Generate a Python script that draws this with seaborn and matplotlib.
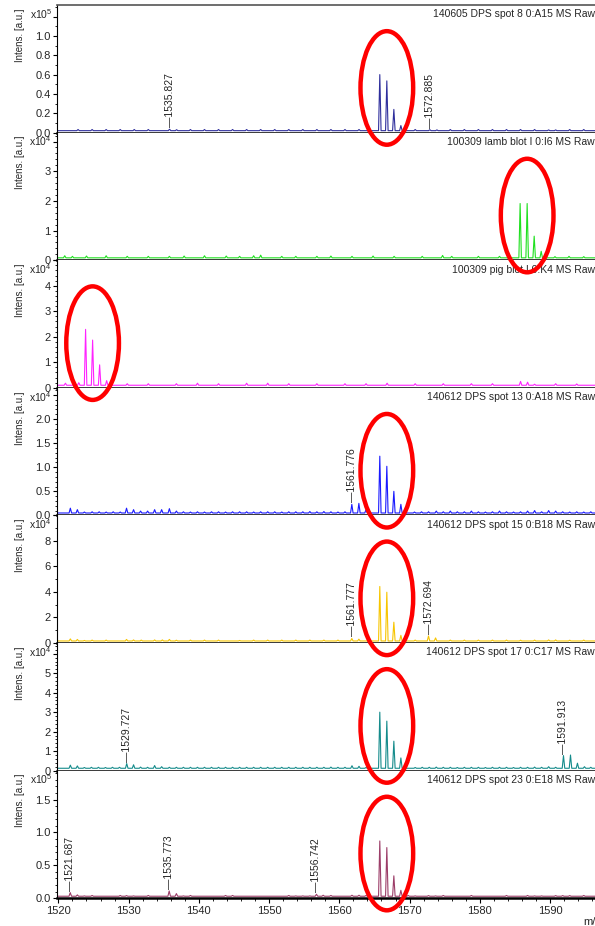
import numpy as np
import pandas as pd
import matplotlib
matplotlib.use("Agg")
import matplotlib.pyplot as plt
import seaborn as sns
from matplotlib.patches import Ellipse
from matplotlib.ticker import MultipleLocator, FuncFormatter
from matplotlib.transforms import blended_transform_factory

# spectrum titles, colours and intensity scale (x10^n) for every panel
titles = ["140605 DPS spot 8 0:A15 MS Raw",
          "100309 lamb blot I 0:I6 MS Raw",
          "100309 pig blot I 0:K4 MS Raw",
          "140612 DPS spot 13 0:A18 MS Raw",
          "140612 DPS spot 15 0:B18 MS Raw",
          "140612 DPS spot 17 0:C17 MS Raw",
          "140612 DPS spot 23 0:E18 MS Raw"]
colors = ["#2e2e9c", "#1fe01f", "#ff22ff", "#1a1aff", "#f7c500", "#148b8b", "#9c3d68"]
exponents = [5, 4, 4, 4, 4, 4, 5]
y_tops = [1.32, 4.3, 5.0, 2.65, 10.0, 6.55, 1.94]
major_steps = [0.2, 1, 1, 0.5, 2, 1, 0.5]
minor_steps = [0.1, 0.2, 0.2, 0.1, 1, 0.2, 0.1]
label_max = [1.0, 3, 4, 2.0, 8, 5, 1.5]
tick_fmt = ["%.1f", "%d", "%d", "%.1f", "%d", "%d", "%.1f"]
baselines = [0.02, 0.08, 0.1, 0.05, 0.16, 0.12, 0.03]

# (m/z, intensity)
spot8_peaks = [(1535.827, 0.035), (1536.83, 0.03), (1565.76, 0.60), (1566.76, 0.535),
               (1567.76, 0.24), (1568.76, 0.073), (1572.885, 0.03), (1573.89, 0.028),
               (1589.8, 0.028), (1590.8, 0.028)]
spot8_noise = [1522.8, 1524.8, 1526.8, 1528.8, 1530.8, 1532.8, 1538.8, 1540.8, 1542.8,
               1544.8, 1546.8, 1548.8, 1550.8, 1552.8, 1554.8, 1556.8, 1558.8, 1560.8,
               1562.8, 1570.8, 1575.8, 1577.8, 1579.8, 1581.8, 1583.8, 1585.8, 1587.8,
               1592.8, 1594.8]
lamb_peaks = [(1520.9, 0.15), (1524.0, 0.14), (1526.8, 0.15), (1532.8, 0.13), (1537.9, 0.14),
              (1540.8, 0.15), (1543.9, 0.14), (1547.8, 0.15), (1548.8, 0.17), (1553.8, 0.13),
              (1558.8, 0.14), (1561.8, 0.13), (1564.8, 0.14), (1574.7, 0.16), (1576.0, 0.13),
              (1585.74, 1.91), (1586.74, 1.91), (1587.74, 0.81), (1588.74, 0.3),
              (1590.7, 0.12), (1592.7, 0.13), (1594.8, 0.12)]
lamb_noise = [1522.0, 1529.8, 1535.8, 1545.8, 1551.8, 1556.8, 1567.8, 1571.8, 1579.8, 1582.8]
pig_peaks = [(1521.0, 0.18), (1522.9, 0.2), (1523.87, 2.29), (1524.87, 1.87), (1525.87, 0.9),
             (1526.87, 0.28), (1536.8, 0.16), (1539.8, 0.18), (1546.8, 0.18), (1549.8, 0.18),
             (1556.8, 0.16), (1560.8, 0.16), (1566.8, 0.18), (1574.8, 0.16), (1585.8, 0.25),
             (1586.8, 0.22), (1587.8, 0.14), (1593.8, 0.15)]
pig_noise = [1529.8, 1532.8, 1542.8, 1552.8, 1563.8, 1570.8, 1578.8, 1581.8, 1590.8]
spot13_peaks = [(1521.7, 0.15), (1522.7, 0.12), (1523.7, 0.07), (1526.8, 0.07), (1528.8, 0.07),
                (1529.7, 0.15), (1530.7, 0.12), (1531.7, 0.09), (1532.7, 0.09), (1533.7, 0.12),
                (1534.7, 0.12), (1535.8, 0.14), (1536.8, 0.09), (1538.8, 0.07), (1540.8, 0.07),
                (1543.8, 0.07), (1547.8, 0.07), (1551.8, 0.07), (1555.8, 0.08), (1557.8, 0.08),
                (1559.8, 0.07), (1561.776, 0.23), (1562.78, 0.25), (1563.8, 0.12),
                (1565.76, 1.23), (1566.76, 1.02), (1567.76, 0.5), (1568.76, 0.23),
                (1570.7, 0.07), (1573.8, 0.09), (1575.8, 0.09), (1578.8, 0.09), (1580.8, 0.07),
                (1582.8, 0.09), (1584.8, 0.07), (1586.8, 0.09), (1587.8, 0.1), (1589.8, 0.1),
                (1590.8, 0.09), (1592.8, 0.07), (1594.8, 0.07)]
spot13_noise = [1524.8, 1525.8, 1527.8, 1537.8, 1539.8, 1541.8, 1542.8, 1544.8, 1545.8,
                1546.8, 1548.8, 1549.8, 1550.8, 1552.8, 1553.8, 1554.8, 1556.8, 1558.8,
                1560.8, 1571.7, 1572.7, 1574.8, 1576.8, 1577.8, 1579.8, 1581.8, 1583.8,
                1585.8, 1588.8, 1591.8, 1593.8, 1595.8]
spot15_peaks = [(1521.7, 0.32), (1522.7, 0.28), (1523.7, 0.2), (1529.7, 0.28), (1530.7, 0.24),
                (1533.7, 0.24), (1534.8, 0.24), (1535.8, 0.28), (1536.8, 0.22), (1545.8, 0.2),
                (1561.777, 0.35), (1562.78, 0.3), (1565.76, 4.43), (1566.76, 3.98),
                (1567.76, 1.63), (1568.76, 0.6), (1572.694, 0.55), (1573.7, 0.4),
                (1585.8, 0.22), (1589.8, 0.24), (1590.8, 0.24), (1592.8, 0.22)]
spot15_noise = [1524.8, 1526.8, 1531.8, 1538.8, 1540.8, 1542.8, 1547.8, 1549.8, 1551.8,
                1553.8, 1555.8, 1557.8, 1559.8, 1570.8, 1575.8, 1577.8, 1579.8, 1581.8,
                1583.8, 1587.8, 1594.8]
spot17_peaks = [(1521.7, 0.28), (1522.7, 0.24), (1523.7, 0.16), (1526.7, 0.16), (1529.727, 0.36),
                (1530.7, 0.3), (1531.7, 0.18), (1533.7, 0.26), (1534.7, 0.2), (1538.8, 0.17),
                (1541.8, 0.17), (1544.8, 0.17), (1548.8, 0.17), (1552.8, 0.17), (1555.8, 0.17),
                (1558.8, 0.18), (1561.8, 0.25), (1562.8, 0.22), (1563.8, 0.16), (1565.76, 3.0),
                (1566.76, 2.54), (1567.76, 1.51), (1568.76, 0.65), (1570.8, 0.16), (1573.8, 0.18),
                (1576.8, 0.16), (1580.8, 0.16), (1584.8, 0.16), (1587.8, 0.18), (1589.8, 0.2),
                (1591.913, 0.77), (1592.91, 0.8), (1593.9, 0.38), (1594.9, 0.2)]
spot17_noise = [1524.7, 1525.7, 1527.7, 1528.7, 1532.7, 1535.8, 1536.8, 1537.8, 1539.8,
                1540.8, 1542.8, 1543.8, 1545.8, 1546.8, 1547.8, 1549.8, 1550.8, 1551.8,
                1553.8, 1554.8, 1556.8, 1557.8, 1559.8, 1560.8, 1571.8, 1572.8, 1574.8,
                1575.8, 1577.8, 1578.8, 1579.8, 1581.8, 1582.8, 1583.8, 1585.8, 1586.8,
                1588.8, 1590.8, 1595.8]
spot23_peaks = [(1521.687, 0.085), (1522.7, 0.05), (1523.7, 0.035), (1529.7, 0.04),
                (1530.7, 0.035), (1535.773, 0.11), (1536.8, 0.07), (1537.8, 0.035),
                (1553.8, 0.035), (1554.8, 0.035), (1555.8, 0.035), (1556.742, 0.06),
                (1557.7, 0.045), (1561.8, 0.045), (1562.8, 0.045), (1565.76, 0.87),
                (1566.76, 0.77), (1567.76, 0.34), (1568.76, 0.12), (1570.8, 0.035),
                (1572.7, 0.04), (1573.7, 0.035), (1587.8, 0.035), (1588.8, 0.035),
                (1590.8, 0.04), (1591.8, 0.04), (1592.8, 0.04)]
spot23_noise = [1524.8, 1528.8, 1532.8, 1538.8, 1543.8, 1544.8, 1552.8, 1558.8, 1563.8,
                1569.8, 1574.8, 1578.8, 1583.8, 1586.8, 1594.8]

all_peaks = [spot8_peaks, lamb_peaks, pig_peaks, spot13_peaks, spot15_peaks, spot17_peaks, spot23_peaks]
all_noise = [spot8_noise, lamb_noise, pig_noise, spot13_noise, spot15_noise, spot17_noise, spot23_noise]
# height of the small noise bumps over the baseline, per panel
noise_h = [0.012, 0.05, 0.06, 0.025, 0.07, 0.05, 0.012]

# labelled peaks and the circled isotope cluster (first peak) per panel
peak_labels = [[1535.827, 1572.885], [], [], [1561.776], [1561.777, 1572.694],
               [1529.727, 1591.913], [1521.687, 1535.773, 1556.742]]
circled = [1565.76, 1585.74, 1523.87, 1565.76, 1565.76, 1565.76, 1565.76]

mz_min, mz_max = 1519.8, 1596.4


def profile(peaks, noise, nh, base, hw=0.18):
    bumps = list(peaks) + [(mz, base + nh) for mz in noise]
    xs, ys = [mz_min], [base]
    for mz, h in sorted(bumps):
        xs += [mz - hw, mz, mz + hw]
        ys += [base, h, base]
    xs.append(mz_max)
    ys.append(base)
    return pd.DataFrame({"mz": xs, "intens": ys})


sns.set_theme(style="ticks")
plt.rcParams["font.family"] = ["Liberation Sans", "DejaVu Sans"]
plt.rcParams["mathtext.fontset"] = "custom"
plt.rcParams["mathtext.rm"] = "Liberation Sans"
plt.rcParams["mathtext.it"] = "Liberation Sans:italic"
fs = 7.5

W, H = 595, 926
fig = plt.figure(figsize=(W / 100, H / 100), dpi=100)
left, top, panel_h = 57, 5, 127.6

for i in range(7):
    ax = fig.add_axes([left / W, 1 - (top + panel_h * (i + 1)) / H, (W - left) / W, panel_h / H])
    df = profile(all_peaks[i], all_noise[i], noise_h[i], baselines[i])
    sns.lineplot(data=df, x="mz", y="intens", ax=ax, color=colors[i], lw=0.8,
                 estimator=None, sort=False)
    ax.set_xlim(mz_min, mz_max)
    ax.set_ylim(0, y_tops[i])
    ax.set_xlabel("")
    ax.set_ylabel("Intens. [a.u.]", fontsize=7)
    ax.yaxis.set_label_coords(-0.06, 0.765)

    # y ticks
    ax.yaxis.set_major_locator(MultipleLocator(major_steps[i]))
    ax.yaxis.set_minor_locator(MultipleLocator(minor_steps[i]))
    fmt, lm = tick_fmt[i], label_max[i]
    ax.yaxis.set_major_formatter(FuncFormatter(lambda v, p, fmt=fmt, lm=lm: (fmt % v) if v <= lm + 1e-6 else ""))
    ax.tick_params(axis="y", which="major", length=3, width=0.8, labelsize=8, pad=1.5, color="black")
    ax.tick_params(axis="y", which="minor", length=1.8, width=0.6, color="black")

    # spines
    for s in ["right", "top"]:
        ax.spines[s].set_visible(False)
    ax.spines["left"].set_linewidth(0.8)
    ax.spines["left"].set_color("black")
    ax.spines["bottom"].set_linewidth(1.8)
    ax.spines["bottom"].set_color("black")
    if i == 0:
        ax.spines["top"].set_visible(True)
        ax.spines["top"].set_color("#555555")
        ax.spines["top"].set_linewidth(1.2)

    if i < 6:
        ax.tick_params(axis="x", which="both", bottom=False, labelbottom=False)
    else:
        ax.xaxis.set_major_locator(MultipleLocator(10))
        ax.xaxis.set_minor_locator(MultipleLocator(2))
        ax.tick_params(axis="x", which="major", length=3.5, width=0.8, labelsize=8, pad=2, color="black")
        ax.tick_params(axis="x", which="minor", length=1.8, width=0.6, color="black")
        ax.set_xlabel("m/z", fontsize=8, ha="left")
        ax.xaxis.set_label_coords(0.978, -0.145)

    ax.text(-0.009, 0.985, "x10$^{%d}$" % exponents[i], transform=ax.transAxes,
            ha="right", va="top", fontsize=fs)
    ax.text(1.0, 0.965, titles[i], transform=ax.transAxes, ha="right", va="top", fontsize=fs)

    # peak labels
    pk = np.array(all_peaks[i])
    for mz in peak_labels[i]:
        h = pk[np.argmin(np.abs(pk[:, 0] - mz)), 1]
        ax.annotate("\u2014" + "%.3f" % mz, xy=(mz, h), xytext=(0, 1.5),
                    textcoords="offset points", rotation=90, ha="center", va="bottom",
                    fontsize=fs)

    # red circle round the isotope cluster, drawn on the figure so it can overlap panels
    tr = blended_transform_factory(ax.transData, ax.transAxes)
    fig.add_artist(Ellipse((circled[i] + 1.0, 0.35), width=7.5, height=0.89, transform=tr,
                           fill=False, ec="#ff0000", lw=3.2, clip_on=False, zorder=10))

fig.savefig("out.png", dpi=100)
